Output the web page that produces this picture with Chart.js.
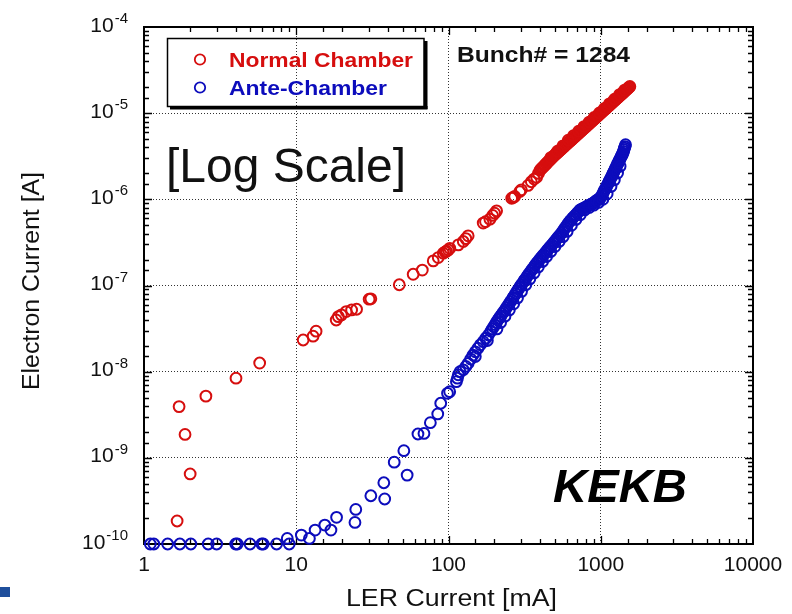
<!DOCTYPE html>
<html><head><meta charset="utf-8">
<script src="https://cdn.jsdelivr.net/npm/chart.js@4/dist/chart.umd.min.js"></script>
<style>html,body{margin:0;padding:0;background:#fff;}canvas{display:block;}</style>
</head><body>
<canvas id="c" width="792" height="614"></canvas>
<script>
// ---- data ----
const X_TICKS = [1, 10, 100, 1000, 10000];
const X_TICK_LABELS = ['1', '10', '100', '1000', '10000'];
const Y_TICKS = [1e-4, 1e-5, 1e-6, 1e-7, 1e-8, 1e-9, 1e-10];
const Y_TICK_BASE = '10';
const Y_TICK_EXPONENTS = ['-4', '-5', '-6', '-7', '-8', '-9', '-10'];
const SERIES_NAMES = ['Normal Chamber', 'Ante-Chamber'];
const X_TITLE = 'LER Current [mA]';
const Y_TITLE = 'Electron Current [A]';
const NOTE_BUNCH = 'Bunch# = 1284';
const NOTE_SCALE = '[Log Scale]';
const NOTE_MACHINE = 'KEKB';

// [LER current mA, electron current A]
const NORMAL_CHAMBER = [
 [1.65,1.85e-10],[1.70,3.93e-9],[1.86,1.87e-9],[2.01,6.5e-10],[2.55,5.2e-9],[4.02,8.4e-9],[5.75,1.26e-8],
 [11.1,2.33e-8],[12.9,2.58e-8],[13.5,2.95e-8],[18.3,3.98e-8],[18.9,4.35e-8],[19.8,4.56e-8],[21.3,4.98e-8],
 [23.1,5.2e-8],[24.9,5.3e-8],[30.1,6.93e-8],[30.9,7.0e-8],[47.5,1.02e-7],[58.6,1.35e-7],[67.3,1.51e-7],
 [79.4,1.93e-7],[85.6,2.11e-7],[92.4,2.37e-7],[95,2.45e-7],[97,2.5e-7],[99.7,2.59e-7],[102,2.7e-7],
 [116,2.96e-7],[125,3.24e-7],[130,3.5e-7],[134.6,3.77e-7],[169,5.3e-7],[175,5.5e-7],[187,5.89e-7],
 [195,6.5e-7],[201,6.9e-7],[207,7.35e-7],[260,1.03e-6],[266,1.05e-6],[272,1.08e-6],[294,1.23e-6],
 [301,1.29e-6],[333,1.45e-6],[350,1.6e-6],[365,1.72e-6],[379,1.8e-6],[390,2.0e-6],
 [400,2.19e-6],[406,2.25e-6],[412,2.31e-6],[418,2.37e-6],[425,2.44e-6],[431,2.51e-6],[438,2.58e-6],
 [444,2.65e-6],[451,2.73e-6],[458,2.8e-6],[465,2.88e-6],[472,2.96e-6],[479,3.05e-6],[486,3.13e-6],
 [494,3.21e-6],[501,3.29e-6],[509,3.37e-6],[516,3.45e-6],[524,3.53e-6],[532,3.62e-6],[540,3.71e-6],
 [548,3.8e-6],[557,3.9e-6],[565,3.99e-6],[574,4.09e-6],[582,4.18e-6],[591,4.29e-6],[600,4.39e-6],
 [609,4.5e-6],[619,4.62e-6],[628,4.73e-6],[638,4.85e-6],[647,4.96e-6],[657,5.08e-6],[667,5.21e-6],
 [677,5.34e-6],[688,5.48e-6],[698,5.61e-6],[709,5.75e-6],[720,5.89e-6],[731,6.04e-6],[742,6.18e-6],
 [753,6.33e-6],[765,6.5e-6],[776,6.65e-6],[788,6.81e-6],[800,6.98e-6],[812,7.15e-6],[825,7.34e-6],
 [837,7.51e-6],[850,7.7e-6],[863,7.89e-6],[876,8.08e-6],[890,8.29e-6],[903,8.49e-6],[917,8.7e-6],
 [931,8.91e-6],[945,9.13e-6],[960,9.36e-6],[974,9.58e-6],[989,9.82e-6],[1004,1.006e-5],[1020,1.032e-5],
 [1035,1.057e-5],[1051,1.083e-5],[1067,1.11e-5],[1083,1.137e-5],[1100,1.166e-5],[1116,1.193e-5],
 [1133,1.223e-5],[1151,1.254e-5],[1168,1.284e-5],[1186,1.316e-5],[1204,1.348e-5],[1223,1.382e-5],
 [1241,1.416e-5],[1260,1.451e-5],[1280,1.488e-5],[1299,1.523e-5],[1319,1.561e-5],[1339,1.6e-5],
 [1360,1.641e-5],[1380,1.68e-5],[1401,1.721e-5],[1423,1.765e-5],[1445,1.809e-5],[1467,1.854e-5],
 [1489,1.899e-5],[1512,1.946e-5],[1535,1.994e-5],[1553,2.04e-5],
 // points along the upper-left edge of the dense band
 [470,3.05e-6],[520,3.62e-6],[565,4.18e-6],[612,4.85e-6],[662,5.48e-6],[716,6.18e-6],[776,6.98e-6],
 [840,7.89e-6],[905,8.91e-6],[980,1.006e-5],[1060,1.137e-5],[1140,1.284e-5],[1232,1.451e-5],
 [1330,1.641e-5],[1435,1.854e-5]
];
const ANTE_CHAMBER = [
 [1.10,1e-10],[1.16,1e-10],[1.43,1e-10],[1.72,1e-10],[2.03,1e-10],[2.64,1e-10],[3.0,1e-10],[4.0,1e-10],
 [4.1,1e-10],[4.97,1e-10],[5.93,1e-10],[6.07,1e-10],[7.43,1e-10],[8.73,1.16e-10],[8.99,1e-10],
 [10.8,1.27e-10],[12.2,1.16e-10],[13.3,1.45e-10],[15.4,1.66e-10],[16.9,1.45e-10],[18.4,2.04e-10],
 [24.3,1.78e-10],[24.6,2.52e-10],[30.9,3.63e-10],[38.1,3.33e-10],[37.6,5.14e-10],[44,8.9e-10],
 [53.5,6.3e-10],[50.9,1.21e-9],[63,1.89e-9],[69,1.92e-9],[76,2.56e-9],[85,3.23e-9],[88.9,4.3e-9],
 [98.5,5.61e-9],[101.8,5.86e-9],[112.7,7.66e-9],[114.5,8.4e-9],[116,9.2e-9],[119,1.0e-8],
 [125,1.05e-8],[130,1.15e-8],[134.6,1.25e-8],[140,1.4e-8],[145,1.56e-8],[150,1.5e-8],[150,1.7e-8],
 [156,1.87e-8],[162,2.05e-8],[169,2.23e-8],[176,2.45e-8],[180,2.3e-8],[183,2.67e-8],
 [190,2.95e-8],[194,3.13e-8],[198,3.32e-8],[202,3.51e-8],[206,3.72e-8],[211,3.98e-8],[215,4.17e-8],
 [220,4.41e-8],[225,4.67e-8],[230,4.93e-8],[235,5.2e-8],[240,5.5e-8],[245,5.81e-8],[250,6.13e-8],
 [255,6.46e-8],[260,6.8e-8],[265,7.18e-8],[270,7.57e-8],[276,8.05e-8],[282,8.55e-8],[288,9.07e-8],
 [295,9.7e-8],[301,1.02e-7],[307,1.07e-7],[314,1.14e-7],[320,1.19e-7],[327,1.26e-7],[334,1.33e-7],
 [341,1.4e-7],[348,1.47e-7],[356,1.55e-7],[364,1.64e-7],[372,1.73e-7],[380,1.82e-7],[388,1.9e-7],
 [396,1.99e-7],[404,2.08e-7],[412,2.17e-7],[421,2.27e-7],[430,2.37e-7],[439,2.48e-7],[448,2.59e-7],
 [457,2.7e-7],[467,2.83e-7],[477,2.95e-7],[488,3.1e-7],[498,3.24e-7],[508,3.38e-7],[518,3.53e-7],
 [529,3.69e-7],[540,3.85e-7],[552,4.05e-7],[563,4.25e-7],[575,4.49e-7],[587,4.73e-7],[600,5.0e-7],
 [614,5.3e-7],[628,5.6e-7],[642,5.84e-7],[656,6.1e-7],[671,6.37e-7],[686,6.64e-7],[702,6.94e-7],
 [717,7.23e-7],[733,7.55e-7],[750,7.71e-7],[767,7.87e-7],[785,8.03e-7],[803,8.2e-7],[821,8.37e-7],
 [840,8.55e-7],[860,8.73e-7],[874,8.86e-7],[889,9.0e-7],[905,9.21e-7],[922,9.44e-7],[943,9.72e-7],
 [965,1.0e-6],[985,1.03e-6],[1000,1.05e-6],[1015,1.1e-6],[1030,1.16e-6],[1045,1.22e-6],[1060,1.28e-6],
 [1076,1.34e-6],[1092,1.41e-6],[1106,1.47e-6],[1120,1.54e-6],[1134,1.61e-6],[1148,1.68e-6],
 [1163,1.76e-6],[1178,1.84e-6],[1193,1.93e-6],[1208,2.02e-6],[1223,2.11e-6],[1238,2.21e-6],
 [1253,2.31e-6],[1268,2.42e-6],[1283,2.52e-6],[1297,2.63e-6],[1310,2.72e-6],[1323,2.82e-6],
 [1336,2.92e-6],[1349,3.02e-6],[1362,3.13e-6],[1375,3.24e-6],[1387,3.34e-6],[1399,3.44e-6],
 [1410,3.6e-6],[1421,3.76e-6],[1432,3.93e-6],[1443,4.1e-6],[1455,4.3e-6],
 // points on the lower-right edge of the dense band
 [208,3.13e-8],[220,3.72e-8],[235,4.41e-8],[251,5.2e-8],[268,6.13e-8],[284,7.18e-8],[302,8.55e-8],
 [322,1.02e-7],[342,1.19e-7],[365,1.4e-7],[389,1.64e-7],[415,1.9e-7],[441,2.17e-7],[470,2.48e-7],
 [500,2.83e-7],[533,3.24e-7],[566,3.69e-7],[602,4.25e-7],[642,5.0e-7],[687,5.84e-7],[734,6.64e-7],
 [784,7.55e-7],[840,8.03e-7],[899,8.55e-7],[968,9.21e-7],[1033,1.0e-6],[1102,1.16e-6],[1168,1.41e-6],
 [1228,1.68e-6],[1290,2.02e-6],[1340,2.42e-6]
];

const RED = 'rgb(214,14,14)';
const BLUE = 'rgb(12,12,188)';

function isDecade(v) {
  const l = Math.log10(v);
  return Math.abs(l - Math.round(l)) < 1e-6;
}

function drawFitText(ctx, text, x, y, font, color, align, targetW) {
  ctx.save();
  ctx.font = font;
  ctx.fillStyle = color;
  ctx.textBaseline = 'alphabetic';
  const w = ctx.measureText(text).width;
  const sx = targetW ? targetW / w : 1;
  let x0 = x;
  if (align === 'center') x0 = x - w * sx / 2;
  else if (align === 'right') x0 = x - w * sx;
  ctx.translate(x0, y);
  ctx.scale(sx, 1);
  ctx.textAlign = 'left';
  ctx.fillText(text, 0, 0);
  ctx.restore();
}

const deco = {
  id: 'deco',
  beforeDatasetsDraw(chart) {
    const ctx = chart.ctx, ca = chart.chartArea;
    const xs = chart.scales.x, ys = chart.scales.y;
    ctx.save();
    ctx.strokeStyle = '#000';
    ctx.lineWidth = 1.3;
    xs.ticks.forEach(t => {
      const px = Math.round(xs.getPixelForValue(t.value)) + 0.5;
      if (px <= ca.left + 1 || px >= ca.right - 1) return;
      const len = isDecade(t.value) ? 8 : 5;
      ctx.beginPath();
      ctx.moveTo(px, ca.bottom); ctx.lineTo(px, ca.bottom - len);
      ctx.moveTo(px, ca.top); ctx.lineTo(px, ca.top + len);
      ctx.stroke();
    });
    ys.ticks.forEach(t => {
      const py = Math.round(ys.getPixelForValue(t.value)) + 0.5;
      if (py <= ca.top + 1 || py >= ca.bottom - 1) return;
      const len = isDecade(t.value) ? 8 : 5;
      ctx.beginPath();
      ctx.moveTo(ca.left, py); ctx.lineTo(ca.left + len, py);
      ctx.moveTo(ca.right, py); ctx.lineTo(ca.right - len, py);
      ctx.stroke();
    });
    ctx.lineWidth = 2;
    ctx.strokeRect(ca.left, ca.top, ca.right - ca.left, ca.bottom - ca.top);
    ctx.restore();
  },
  afterDraw(chart) {
    const ctx = chart.ctx, ca = chart.chartArea;
    const xs = chart.scales.x, ys = chart.scales.y;
    ctx.save();
    ctx.fillStyle = '#111';
    ctx.font = '21px "Liberation Sans", Arial, sans-serif';
    ctx.textAlign = 'center';
    ctx.textBaseline = 'alphabetic';
    X_TICKS.forEach((v, i) => {
      ctx.fillText(X_TICK_LABELS[i], xs.getPixelForValue(v), 571);
    });
    const rightEdge = 128;
    Y_TICKS.forEach((v, i) => {
      const py = ys.getPixelForValue(v);
      ctx.textAlign = 'left';
      ctx.font = '15px "Liberation Sans", Arial, sans-serif';
      const ew = ctx.measureText(Y_TICK_EXPONENTS[i]).width;
      ctx.font = '21px "Liberation Sans", Arial, sans-serif';
      const bw = ctx.measureText(Y_TICK_BASE).width;
      const bx = rightEdge - ew - bw - 1;
      ctx.fillText(Y_TICK_BASE, bx, py + 4.5);
      ctx.font = '15px "Liberation Sans", Arial, sans-serif';
      ctx.fillText(Y_TICK_EXPONENTS[i], bx + bw + 1, py - 4);
    });
    ctx.restore();

    drawFitText(ctx, X_TITLE, (ca.left + ca.right) / 2 + 3, 606, '23px "Liberation Sans", Arial, sans-serif', '#111', 'center', 211);
    ctx.save();
    ctx.translate(38.5, 281);
    ctx.rotate(-Math.PI / 2);
    drawFitText(ctx, Y_TITLE, 0, 0, '23px "Liberation Sans", Arial, sans-serif', '#111', 'center', 218);
    ctx.restore();

    ctx.save();
    ctx.fillStyle = '#000';
    ctx.fillRect(424, 41, 3.5, 68);
    ctx.fillRect(170, 106, 257.5, 3.5);
    ctx.strokeStyle = '#000';
    ctx.lineWidth = 1.5;
    ctx.strokeRect(167.5, 38.5, 256.5, 68);
    ctx.lineWidth = 1.8;
    ctx.strokeStyle = RED;
    ctx.beginPath(); ctx.arc(200, 59.5, 5.2, 0, Math.PI * 2); ctx.stroke();
    ctx.strokeStyle = BLUE;
    ctx.beginPath(); ctx.arc(200, 87.5, 5.2, 0, Math.PI * 2); ctx.stroke();
    ctx.restore();
    drawFitText(ctx, SERIES_NAMES[0], 229, 67, 'bold 21px "Liberation Sans", Arial, sans-serif', RED, 'left', 184);
    drawFitText(ctx, SERIES_NAMES[1], 229, 95, 'bold 21px "Liberation Sans", Arial, sans-serif', BLUE, 'left', 158);

    drawFitText(ctx, NOTE_BUNCH, 457, 62, 'bold 22px "Liberation Sans", Arial, sans-serif', '#111', 'left', 173);
    drawFitText(ctx, NOTE_SCALE, 166, 182, '48px "Liberation Sans", Arial, sans-serif', '#111', 'left', 240);
    drawFitText(ctx, NOTE_MACHINE, 553, 502, 'italic bold 47px "Liberation Sans", Arial, sans-serif', '#000', 'left', 134);

    ctx.save();
    ctx.fillStyle = '#1f4f9c';
    ctx.fillRect(0, 587, 10, 10);
    ctx.restore();
  }
};

const gridColor = c => (c.tick && isDecade(c.tick.value)) ? '#333' : 'rgba(0,0,0,0)';

new Chart(document.getElementById('c'), {
  type: 'scatter',
  data: {
    datasets: [
      { label: SERIES_NAMES[0], data: NORMAL_CHAMBER.map(p => ({x: p[0], y: p[1]})),
        borderColor: RED, backgroundColor: 'rgba(0,0,0,0)', pointRadius: 5.4, pointBorderWidth: 2,
        pointHoverRadius: 5.4, clip: false },
      { label: SERIES_NAMES[1], data: ANTE_CHAMBER.map(p => ({x: p[0], y: p[1]})),
        borderColor: BLUE, backgroundColor: 'rgba(0,0,0,0)', pointRadius: 5.4, pointBorderWidth: 2,
        pointHoverRadius: 5.4, clip: false }
    ]
  },
  options: {
    responsive: false,
    animation: false,
    devicePixelRatio: 1,
    layout: { padding: { left: 0, top: 27, right: 39, bottom: 0 } },
    plugins: { legend: { display: false }, tooltip: { enabled: false } },
    scales: {
      x: {
        type: 'logarithmic', min: 1, max: 10000,
        ticks: { display: false },
        grid: { color: gridColor, lineWidth: 1, drawTicks: false },
        border: { display: false, dash: [1, 2] },
        afterFit: s => { s.height = 70; }
      },
      y: {
        type: 'logarithmic', min: 1e-10, max: 1e-4,
        ticks: { display: false },
        grid: { color: gridColor, lineWidth: 1, drawTicks: false },
        border: { display: false, dash: [1, 2] },
        afterFit: s => { s.width = 144; }
      }
    }
  },
  plugins: [deco]
});
</script>
</body></html>
